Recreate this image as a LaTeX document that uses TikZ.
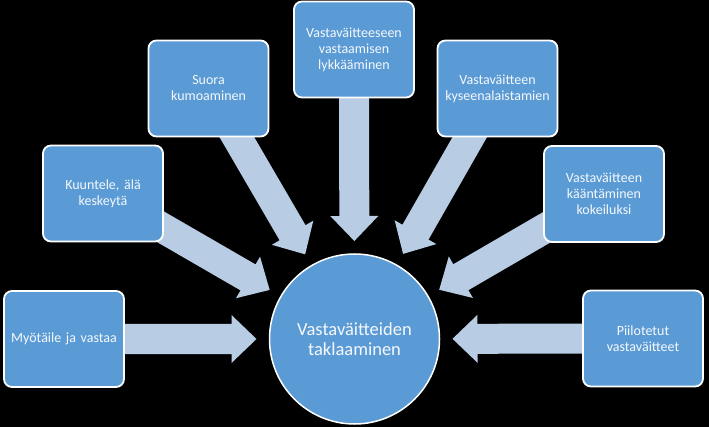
\documentclass[tikz,border=0pt]{standalone}
\usepackage{fontspec}
\setmainfont{Carlito}
\usetikzlibrary{calc}
\definecolor{boxblue}{HTML}{5B9BD5}
\definecolor{arrowblue}{HTML}{B8CCE4}
\definecolor{txt}{HTML}{F4F8FC}
\pgfdeclarelayer{bg}
\pgfdeclarelayer{arrows}
\pgfsetlayers{bg,arrows,main}
\tikzset{
  item/.style={draw=white, line width=1.8pt, fill=boxblue, rounded corners=8pt,
    minimum width=120pt, minimum height=96pt, text width=118pt, align=center,
    text=txt, font=\fontsize{14}{16}\selectfont, inner sep=0pt},
  hub/.style={circle, draw=white, line width=1.5pt, fill=boxblue,
    minimum size=170pt, align=center, text=txt,
    font=\fontsize{18.5}{20.5}\selectfont, inner sep=0pt},
  blockarrow/.style={fill=arrowblue}
}
\newcommand{\radarrow}[2]{%
  \coordinate (T) at ($(#2)!98pt!(#1)$);
  \coordinate (H) at ($(#2)!123pt!(#1)$);
  \fill[blockarrow] ($(#1)!15pt!90:(T)$) -- ($(H)!15pt!90:(T)$) -- ($(H)!24pt!90:(T)$)
    -- (T) -- ($(H)!24pt!-90:(T)$) -- ($(H)!15pt!-90:(T)$) -- ($(#1)!15pt!-90:(T)$) -- cycle;}
\begin{document}
\begin{tikzpicture}[x=1pt,y=-1pt]
\begin{pgfonlayer}{bg}
\fill[black] (0,0) rectangle (709,427);
\end{pgfonlayer}
\useasboundingbox (0,0) rectangle (709,427);
\node[hub] (c) at (354.5,339) {Vastaväitteiden\\taklaaminen};
\node[item] (b1) at (64,339) {Myötäile ja vastaa};
\node[item] (b2) at (103,193.5) {Kuuntele, älä\\keskeytä};
\node[item] (b3) at (208.5,88.5) {Suora\\kumoaminen};
\node[item] (b4) at (354,49.5) {Vastaväitteeseen\\vastaamisen\\lykkääminen};
\node[item] (b5) at (497.5,88.5) {Vastaväitteen\\kyseenalaistamien};
\node[item] (b6) at (604,194) {Vastaväitteen\\kääntäminen\\kokeiluksi};
\node[item] (b7) at (643,338.5) {Piilotetut\\vastaväitteet};
\begin{pgfonlayer}{arrows}
\radarrow{b1.center}{c.center}
\radarrow{b2.center}{c.center}
\radarrow{b3.center}{c.center}
\radarrow{b4.center}{c.center}
\radarrow{b5.center}{c.center}
\radarrow{b6.center}{c.center}
\radarrow{b7.center}{c.center}
\end{pgfonlayer}
\end{tikzpicture}
\end{document}
